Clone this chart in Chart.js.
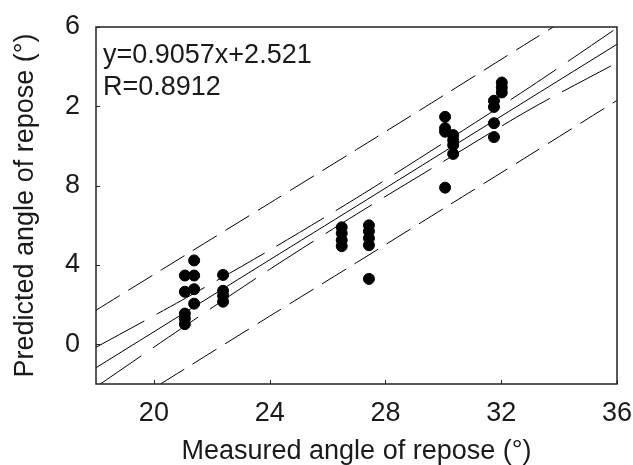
<!DOCTYPE html>
<html>
<head>
<meta charset="utf-8">
<script src="https://cdn.jsdelivr.net/npm/chart.js@4/dist/chart.umd.min.js"></script>
<style>
    html, body { margin: 0; padding: 0; background: #fff; }
    #wrap { width: 633px; height: 465px; }
</style>
</head>
<body>
<div id="wrap"><canvas id="chart" width="633" height="465"></canvas></div>
<script>
// Measured vs predicted angle of repose (degrees)
const measuredX = [
    21.07, 21.07, 21.07, 21.07, 21.07,
    21.39, 21.39, 21.39, 21.39,
    22.39, 22.39, 22.39, 22.39,
    26.49, 26.49, 26.49, 26.49,
    27.43, 27.43, 27.43, 27.43, 27.43,
    30.06, 30.06, 30.06, 30.06,
    30.34, 30.34, 30.34, 30.34,
    31.75, 31.75, 31.75, 31.75,
    32.02, 32.02, 32.02
];
const predictedY = [
    23.47, 22.65, 21.55, 21.3, 21.02,
    24.23, 23.47, 22.78, 22.05,
    23.5, 22.7, 22.45, 22.15,
    25.9, 25.6, 25.25, 24.95,
    26.0, 25.7, 25.35, 25.0, 23.3,
    31.47, 30.9, 30.72, 27.9,
    30.55, 30.3, 30.05, 29.6,
    32.28, 31.97, 31.15, 30.45,
    33.2, 32.95, 32.7
];

// fitted line and bands, read at a few x positions
const bandX   = [18, 21, 24, 27, 30, 33, 36];
const fitY    = [18.82, 21.54, 24.26, 26.97, 29.69, 32.41, 35.13];
const ciUpper = [19.85, 22.25, 24.75, 27.38, 30.15, 32.98, 35.95];
const ciLower = [17.85, 20.85, 23.78, 26.56, 29.22, 31.85, 34.2];
const piUpper = [21.72, 24.42, 27.12, 29.82, 32.54, 35.28, 38.0];
const piLower = [15.98, 18.7, 21.42, 24.12, 26.84, 29.56, 32.3];

// axis ticks (the y labels are clipped to one digit in the original)
const xTicks = [20, 24, 28, 32, 36];
const yTicks = [20, 24, 28, 32, 36];
const yTickLabels = ['0', '4', '8', '2', '6'];

const annotationLines = ['y=0.9057x+2.521', 'R=0.8912'];

const FONT = '"Liberation Sans", Arial, sans-serif';
const TEXT_COLOR = '#1a1a1a';

function toXY(xs, ys) {
    return xs.map((x, i) => ({ x: x, y: ys[i] }));
}

function bandDataset(ys, dash) {
    return {
        type: 'line',
        data: toXY(bandX, ys),
        borderColor: '#000',
        borderWidth: 1,
        borderDash: dash,
        pointRadius: 0,
        tension: 0.3,
        fill: false
    };
}

// frame, inward ticks and the equation text
const framePlugin = {
    id: 'frame',
    afterDatasetsDraw(chart) {
        const ctx = chart.ctx;
        const a = chart.chartArea;
        const xs = chart.scales.x;
        const ys = chart.scales.y;
        ctx.save();
        ctx.strokeStyle = '#222';
        ctx.lineWidth = 1.5;
        ctx.strokeRect(a.left, a.top, a.right - a.left, a.bottom - a.top);
        ctx.lineWidth = 1;
        ctx.beginPath();
        xTicks.forEach(v => {
            const px = Math.round(xs.getPixelForValue(v)) + 0.5;
            ctx.moveTo(px, a.bottom);
            ctx.lineTo(px, a.bottom - 4);
        });
        yTicks.forEach(v => {
            const py = Math.round(ys.getPixelForValue(v)) + 0.5;
            ctx.moveTo(a.left, py);
            ctx.lineTo(a.left + 4, py);
        });
        ctx.stroke();

        ctx.fillStyle = TEXT_COLOR;
        ctx.font = '27px ' + FONT;
        ctx.textBaseline = 'alphabetic';
        ctx.textAlign = 'left';
        annotationLines.forEach((t, i) => {
            ctx.fillText(t, a.left + 7, a.top + 36 + i * 32);
        });
        ctx.restore();
    }
};

const ctx = document.getElementById('chart').getContext('2d');
new Chart(ctx, {
    type: 'scatter',
    data: {
        datasets: [
            {
                data: toXY(measuredX, predictedY),
                backgroundColor: '#000',
                borderColor: '#000',
                borderWidth: 1,
                pointRadius: 5.5,
                pointStyle: 'circle'
            },
            bandDataset(piUpper, [28, 10]),
            bandDataset(ciUpper, [55, 14]),
            bandDataset(fitY, []),
            bandDataset(ciLower, [55, 14]),
            bandDataset(piLower, [28, 10])
        ]
    },
    options: {
        responsive: false,
        animation: false,
        layout: {
            padding: { top: 27, right: 16, left: 0, bottom: 0 }
        },
        plugins: {
            legend: { display: false },
            tooltip: { enabled: false }
        },
        scales: {
            x: {
                type: 'linear',
                min: 18,
                max: 36,
                afterBuildTicks: scale => { scale.ticks = xTicks.map(v => ({ value: v })); },
                afterFit: scale => {
                    scale.height = 81;
                    scale.paddingLeft = 0;
                    scale.paddingRight = 0;
                },
                grid: { display: false, drawTicks: false },
                border: { display: false },
                ticks: {
                    padding: 13,
                    color: TEXT_COLOR,
                    font: { family: FONT, size: 27 },
                    maxRotation: 0
                },
                title: {
                    display: true,
                    text: 'Measured angle of repose (°)',
                    color: TEXT_COLOR,
                    font: { family: FONT, size: 27 },
                    padding: { top: 0, bottom: -3 }
                }
            },
            y: {
                type: 'linear',
                min: 18,
                max: 36,
                afterBuildTicks: scale => { scale.ticks = yTicks.map(v => ({ value: v })); },
                afterFit: scale => {
                    scale.width = 96;
                    scale.paddingTop = 0;
                    scale.paddingBottom = 0;
                },
                grid: { display: false, drawTicks: false },
                border: { display: false },
                ticks: {
                    padding: 16,
                    color: TEXT_COLOR,
                    font: { family: FONT, size: 27 },
                    callback: (value, index) => yTickLabels[index]
                },
                title: {
                    display: true,
                    text: 'Predicted angle of repose (°)',
                    color: TEXT_COLOR,
                    font: { family: FONT, size: 27 },
                    padding: { top: 9, bottom: 0 }
                }
            }
        }
    },
    plugins: [framePlugin]
});
</script>
</body>
</html>
